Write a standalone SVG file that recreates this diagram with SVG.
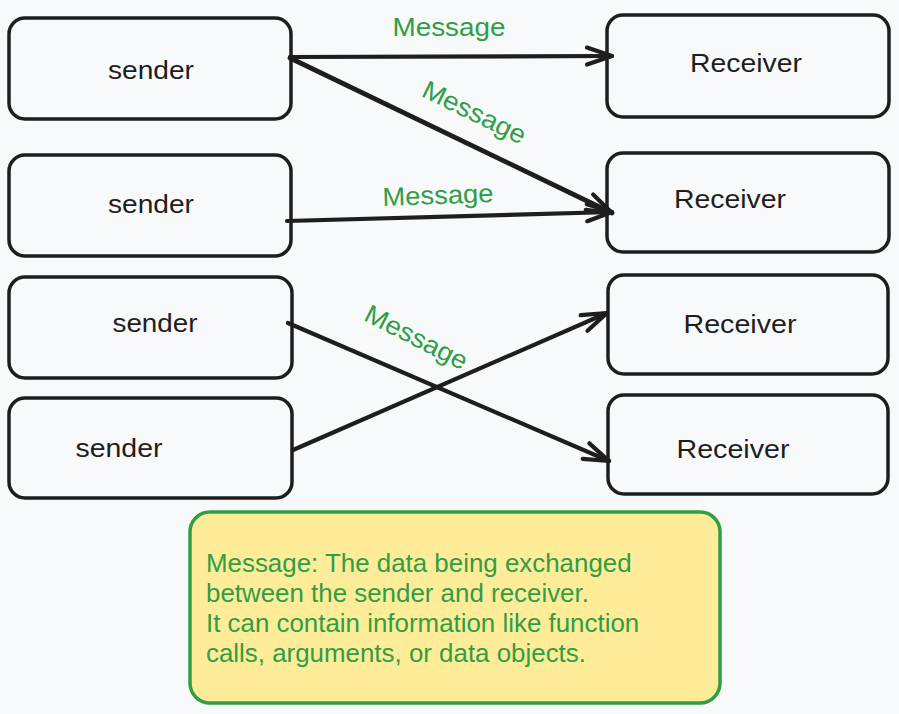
<svg xmlns="http://www.w3.org/2000/svg" width="899" height="714" viewBox="0 0 899 714">
<style>
.box{fill:none;stroke:#1e1e1e;stroke-width:3.5}
.lbl{font-family:"Liberation Sans",Arial,sans-serif;font-size:25px;fill:#1e1e1e;text-anchor:middle}
.msg{font-family:"Liberation Sans",Arial,sans-serif;font-size:26px;fill:#2f9e44;text-anchor:middle}
.edge{fill:none;stroke:#1e1e1e;stroke-width:4.2;stroke-linecap:round}
.note{fill:#ffec99;stroke:#2f9e44;stroke-width:3.5}
.notetext{font-family:"Liberation Sans",Arial,sans-serif;font-size:25.9px;fill:#2f9e44}
</style>
<defs>
<marker id="arr" markerUnits="userSpaceOnUse" orient="auto" markerWidth="40" markerHeight="40" viewBox="-30 -20 40 40" refX="0" refY="0">
<path d="M-25,-8.5 L0,0 L-25,8.5" fill="none" stroke="#1e1e1e" stroke-width="4.2" stroke-linecap="round" stroke-linejoin="round"/>
</marker>
</defs>
<rect width="899" height="714" fill="#f8f9fa"/>
<g id="sender1"><rect class="box" x="9" y="18" width="282" height="101" rx="16"/><text class="lbl" x="151" y="79" textLength="86" lengthAdjust="spacingAndGlyphs">sender</text></g>
<g id="sender2"><rect class="box" x="9" y="155" width="282" height="101" rx="16"/><text class="lbl" x="151" y="213" textLength="86" lengthAdjust="spacingAndGlyphs">sender</text></g>
<g id="sender3"><rect class="box" x="9" y="277" width="283" height="101" rx="16"/><text class="lbl" x="155" y="332" textLength="85" lengthAdjust="spacingAndGlyphs">sender</text></g>
<g id="sender4"><rect class="box" x="9" y="398" width="283" height="100" rx="16"/><text class="lbl" x="119" y="457" textLength="87" lengthAdjust="spacingAndGlyphs">sender</text></g>
<g id="receiver1"><rect class="box" x="607" y="15" width="282" height="102" rx="16"/><text class="lbl" x="746" y="72" textLength="112" lengthAdjust="spacingAndGlyphs">Receiver</text></g>
<g id="receiver2"><rect class="box" x="607" y="153" width="282" height="99" rx="16"/><text class="lbl" x="730" y="208" textLength="112" lengthAdjust="spacingAndGlyphs">Receiver</text></g>
<g id="receiver3"><rect class="box" x="608" y="275" width="280" height="99" rx="16"/><text class="lbl" x="740" y="333" textLength="113" lengthAdjust="spacingAndGlyphs">Receiver</text></g>
<g id="receiver4"><rect class="box" x="608" y="395" width="280" height="99" rx="16"/><text class="lbl" x="733" y="458" textLength="113" lengthAdjust="spacingAndGlyphs">Receiver</text></g>
<g id="connectors">
<path class="edge" d="M290,57 L612,56" marker-end="url(#arr)"/>
<path class="edge" d="M290,58 L612,213" marker-end="url(#arr)" style="stroke-width:4.8"/>
<path class="edge" d="M287,221 L612,212" marker-end="url(#arr)"/>
<path class="edge" d="M288,323 L609,461" marker-end="url(#arr)"/>
<path class="edge" d="M293,450 L607,313" marker-end="url(#arr)"/>
<text class="msg" x="449" y="36" textLength="113" lengthAdjust="spacingAndGlyphs">Message</text>
<text class="msg" transform="translate(474,113) rotate(26)" x="0" y="8" textLength="112" lengthAdjust="spacingAndGlyphs">Message</text>
<text class="msg" transform="translate(438,196) rotate(-2)" x="0" y="8" textLength="111" lengthAdjust="spacingAndGlyphs">Message</text>
<text class="msg" transform="translate(416,338) rotate(27)" x="0" y="8" textLength="112" lengthAdjust="spacingAndGlyphs">Message</text>
</g>
<g id="note">
<rect class="note" x="190" y="512" width="530" height="191" rx="20"/>
<text class="notetext" x="206" y="572">Message: The data being exchanged</text>
<text class="notetext" x="206" y="602">between the sender and receiver.</text>
<text class="notetext" x="206" y="632">It can contain information like function</text>
<text class="notetext" x="206" y="662">calls, arguments, or data objects.</text>
</g>
</svg>
